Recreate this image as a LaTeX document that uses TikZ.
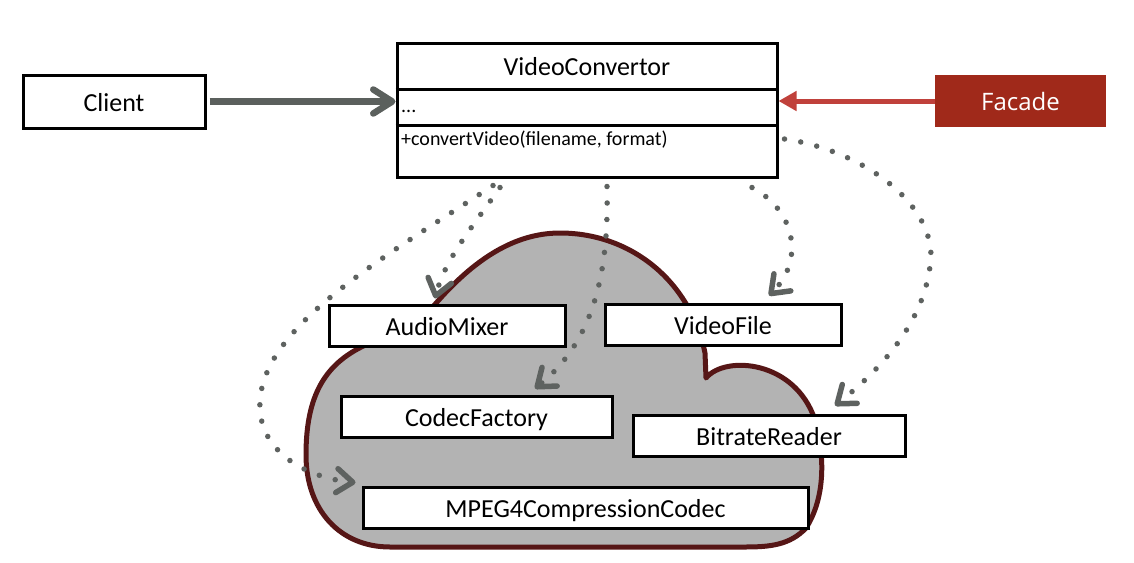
\documentclass[tikz,border=0pt]{standalone}
\usepackage{fontspec}
\setmainfont{Carlito}
\newfontfamily\facadefont{Open Sans}
\usetikzlibrary{arrows.meta,calc}
\definecolor{arrowgray}{HTML}{5B605D}
\definecolor{dotgray}{HTML}{5E6260}
\definecolor{cloudfill}{HTML}{B3B3B3}
\definecolor{cloudline}{HTML}{561616}
\definecolor{facadered}{HTML}{A0291A}
\definecolor{linkred}{HTML}{C0413B}
\begin{document}
\begin{tikzpicture}[x=1pt,y=-1pt,
  clsbox/.style={draw=black,line width=3pt,fill=white,minimum height=41pt,inner sep=0pt,
    text height=19pt,text depth=0pt,font=\fontsize{26}{30}\selectfont},
  bigtext/.style={inner sep=0pt,font=\fontsize{26}{30}\selectfont},
  smalltext/.style={inner sep=0pt,font=\fontsize{20}{24}\selectfont},
  dotlink/.style={draw=dotgray,line width=5.5pt,line cap=round,dash pattern=on 0pt off 16.5pt,
    -{Straight Barb[length=16pt,width=24pt,round]}},
  cloudshape/.style={draw=cloudline,fill=cloudfill,line width=5pt,line join=round}]
\useasboundingbox (0,0) rectangle (1134,562);

% cloud
\path[cloudshape]
 (706,378) .. controls (725,355) and (795,360) .. (815,420)
 .. controls (826,460) and (824,500) .. (806,528)
 .. controls (790,545) and (770,547) .. (745,547)
 -- (390,547)
 .. controls (340,547) and (306,510) .. (306,455)
 .. controls (306,395) and (325,362) .. (370,343)
 -- (431,309)
 .. controls (468,265) and (510,233) .. (560,233)
 .. controls (630,233) and (690,280) .. (705,353)
 -- cycle;

% main boxes
\node[draw=black,line width=3pt,fill=white,minimum width=182pt,minimum height=53pt,inner sep=0pt,
  text height=19pt,text depth=0pt,font=\fontsize{26}{30}\selectfont] (client) at (114,101.5) {Client};
\node[draw=black,line width=3pt,fill=white,minimum width=380pt,minimum height=134pt,inner sep=0pt] (vc) at (587,110) {};
\draw[line width=3pt] ([yshift=-48pt]vc.north west) -- ([yshift=-48pt]vc.north east);
\draw[line width=3pt] ([yshift=-84pt]vc.north west) -- ([yshift=-84pt]vc.north east);
\node[bigtext,anchor=base] (vctitle) at (587,75) {VideoConvertor};
\node[smalltext,anchor=base west] (vcattr) at (401,112) {...};
\node[smalltext,anchor=base west] (vcop) at (401,145) {+convertVideo(filename, format)};
\node[fill=facadered,minimum width=171pt,minimum height=52pt,inner sep=0pt,text=white,
  text height=18pt,text depth=0pt,font=\facadefont\fontsize{24}{28}\selectfont] (facade) at (1020.5,101) {Facade};

% subsystem classes
\node[clsbox,minimum width=236pt] (am) at (447,325.5) {AudioMixer};
\node[clsbox,minimum width=236pt] (vf) at (723,324.5) {VideoFile};
\node[clsbox,minimum width=271pt] (cf) at (476.5,416.5) {CodecFactory};
\node[clsbox,minimum width=272pt] (br) at (769,435.5) {BitrateReader};
\node[clsbox,minimum width=445pt] (mp) at (585.5,507.5) {MPEG4CompressionCodec};

% solid arrows
\draw[draw=arrowgray,line width=6.5pt,shorten <=3pt,-{Straight Barb[length=19pt,width=24pt,round]}]
  (client.east) -- (client.east -| vc.west);
\draw[draw=linkred,line width=5pt,-{Triangle[length=18pt,width=19pt]}]
  (facade.west) -- (facade.west -| vc.east);

% dotted dependencies
\draw[dotlink] ([xshift=-87pt,yshift=-9pt]vc.south) .. controls (470,230) and (445,260) .. ([xshift=-12pt,yshift=5pt]am.north);
\draw[dotlink] ([xshift=-94pt,yshift=-7pt]vc.south) .. controls (380,260) and (255,330) .. (260,410)
  .. controls (263,455) and (310,478) .. ([xshift=-6pt,yshift=3pt]mp.north west);
\draw[dotlink] ([xshift=20pt,yshift=-8pt]vc.south) .. controls (609,270) and (595,340) .. ([xshift=58.5pt,yshift=6pt]cf.north);
\draw[dotlink] ([xshift=165pt,yshift=-9pt]vc.south) .. controls (795,210) and (805,260) .. ([xshift=46pt,yshift=7pt]vf.north);
\draw[dotlink] ([xshift=6pt,yshift=-29pt]vc.east) .. controls (860,150) and (930,200) .. (931,255)
  .. controls (928,320) and (880,370) .. ([xshift=66pt,yshift=8pt]br.north);
\end{tikzpicture}
\end{document}
